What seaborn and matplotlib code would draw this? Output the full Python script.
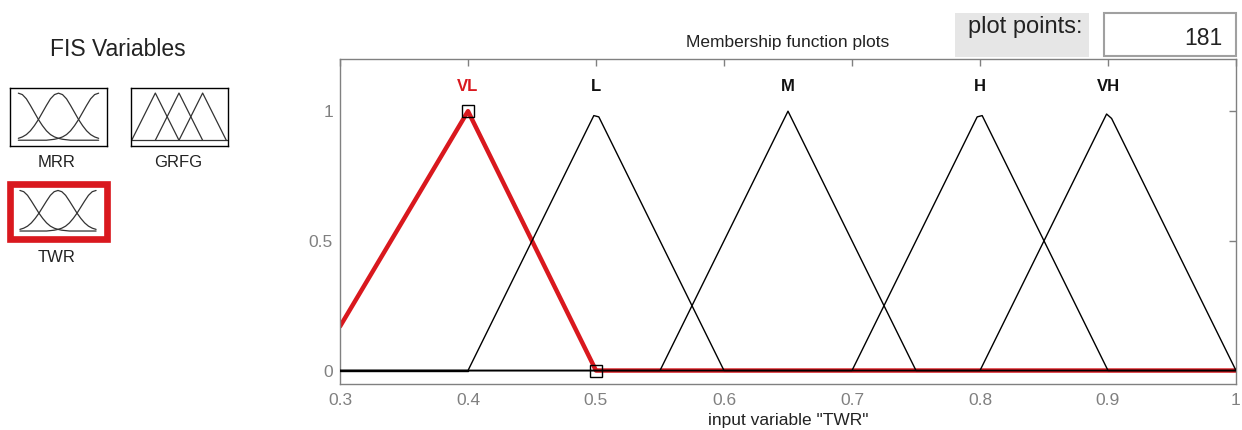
import matplotlib
matplotlib.use("Agg")
import matplotlib.pyplot as plt
import seaborn as sns
from matplotlib.patches import Rectangle

sns.set_style("white")
plt.rcParams["font.family"] = ["Liberation Sans", "DejaVu Sans"]

# ---- membership functions of the input variable "TWR" (vertices) ----
mf_names = ["VL", "L", "M", "H", "VH"]
vl_x = [0.3, 0.4, 0.5, 1.0]
vl_y = [0.17, 1.0, 0.0, 0.0]
l_x = [0.3, 0.4, 0.4983, 0.5022, 0.6, 1.0]
l_y = [0.0, 0.0, 0.983, 0.978, 0.0, 0.0]
m_x = [0.3, 0.55, 0.65, 0.75, 1.0]
m_y = [0.0, 0.0, 1.0, 0.0, 0.0]
h_x = [0.3, 0.7, 0.7978, 0.8017, 0.9, 1.0]
h_y = [0.0, 0.0, 0.978, 0.983, 0.0, 0.0]
vh_x = [0.3, 0.8, 0.8989, 0.9028, 1.0]
vh_y = [0.0, 0.0, 0.989, 0.972, 0.0]
mf_peaks = [0.4, 0.5, 0.65, 0.8, 0.9]

x_ticks = [0.3, 0.4, 0.5, 0.6, 0.7, 0.8, 0.9, 1.0]
x_tick_labels = ["0.3", "0.4", "0.5", "0.6", "0.7", "0.8", "0.9", "1"]
y_ticks = [0.0, 0.5, 1.0]
y_tick_labels = ["0", "0.5", "1"]

plot_points = "181"
fis_vars = ["MRR", "GRFG", "TWR"]

# ---- small glyphs for the FIS variable buttons ----
icon_u = [i / 20 for i in range(21)]
gauss_left = [1.00, 0.97, 0.88, 0.74, 0.59, 0.44, 0.31, 0.20, 0.12, 0.07, 0.04,
              0.02, 0.01, 0.0, 0.0, 0.0, 0.0, 0.0, 0.0, 0.0, 0.0]
gauss_mid = [0.04, 0.07, 0.12, 0.20, 0.31, 0.44, 0.59, 0.74, 0.88, 0.97, 1.00,
             0.97, 0.88, 0.74, 0.59, 0.44, 0.31, 0.20, 0.12, 0.07, 0.04]
gauss_right = gauss_left[::-1]
tri_x = [[0.0, 0.25, 0.5], [0.25, 0.5, 0.75], [0.5, 0.75, 1.0]]
tri_y = [0.0, 1.0, 0.0]

W, H = 1242, 430
fig = plt.figure(figsize=(W / 100, H / 100), dpi=100)
fig.patch.set_facecolor("white")


def fx(px):
    return px / W


def fy(py):
    return 1 - py / H


def box(x0, y0, x1, y1):
    return [fx(x0), fy(y1), fx(x1) - fx(x0), fy(y0) - fy(y1)]


GRAY = "#808080"
RED = "#d9181e"

# ---- main membership function plot ----
ax = fig.add_axes(box(340, 59.3, 1236, 383.5))
sns.lineplot(x=vl_x, y=vl_y, ax=ax, color=RED, lw=3.2, sort=False,
             estimator=None, zorder=2)
for xs, ys in [(l_x, l_y), (m_x, m_y), (h_x, h_y), (vh_x, vh_y)]:
    sns.lineplot(x=xs, y=ys, ax=ax, color="black", lw=1.0, sort=False,
                 estimator=None, zorder=3)
sns.lineplot(x=vl_x[:2], y=[0.0, 0.0], ax=ax, color="black", lw=1.0,
             sort=False, estimator=None, zorder=3)
# square handles on the selected function
ax.plot([vl_x[1], vl_x[2]], [vl_y[1], vl_y[2]], "s", mfc="none", mec="black",
        ms=8.5, mew=1.0, zorder=5)

for name, px in zip(mf_names, mf_peaks):
    ax.text(px, 1.095, name, ha="center", va="center", fontsize=12,
            fontweight="bold", color=RED if name == "VL" else "#111111")

ax.set_xlim(0.3, 1.0)
ax.set_ylim(-0.05, 1.2)
ax.set_xticks(x_ticks)
ax.set_xticklabels(x_tick_labels)
ax.set_yticks(y_ticks)
ax.set_yticklabels(y_tick_labels)
ax.tick_params(direction="in", length=5, width=1, color=GRAY,
               labelcolor=GRAY, labelsize=12.5, top=True, right=True)
ax.tick_params(axis="x", pad=7)
ax.tick_params(axis="y", pad=5)
for sp in ax.spines.values():
    sp.set_color(GRAY)
    sp.set_linewidth(1.0)
ax.set_xlabel("")
ax.set_ylabel("")

fig.text(fx(788), fy(47), "Membership function plots", ha="center",
         va="baseline", fontsize=12.5, color="#222222")
fig.text(fx(788), fy(425), 'input variable "TWR"', ha="center",
         va="baseline", fontsize=12.5, color="#222222")

# ---- plot points field ----
fig.patches.append(Rectangle((fx(955), fy(57)), fx(1089) - fx(955),
                             fy(13) - fy(57), transform=fig.transFigure,
                             facecolor="#e6e6e6", edgecolor="none"))
fig.patches.append(Rectangle((fx(1104), fy(56)), fx(1236) - fx(1104),
                             fy(13) - fy(56), transform=fig.transFigure,
                             facecolor="white", edgecolor="#a0a0a0", lw=1.5))
fig.text(fx(968), fy(33), "plot points:", ha="left", va="baseline",
         fontsize=17, color="#222222")
fig.text(fx(1223), fy(45), plot_points, ha="right", va="baseline",
         fontsize=16.5, color="#222222")

# ---- FIS variables panel ----
fig.text(fx(118), fy(50), "FIS Variables", ha="center", va="center",
         fontsize=16.5, color="#222222")


def gauss_icon(rect, edge="black", edge_w=1.0, show_spines=True):
    iax = fig.add_axes(rect)
    for ys in (gauss_left, gauss_mid, gauss_right):
        sns.lineplot(x=icon_u, y=ys, ax=iax, color="#333333", lw=0.9,
                     sort=False, estimator=None)
    iax.set_xlim(-0.104, 1.104)
    iax.set_ylim(-0.123, 1.11)
    iax.set_xticks([])
    iax.set_yticks([])
    iax.set_facecolor("white")
    for sp in iax.spines.values():
        sp.set_visible(show_spines)
        sp.set_color(edge)
        sp.set_linewidth(edge_w)
    return iax


gauss_icon(box(10, 88, 107, 146))
gauss_icon(box(12, 186, 104, 236), show_spines=False)
# selection frame round the active variable
fig.patches.append(Rectangle((fx(9.5), fy(238.5)), fx(107) - fx(9.5),
                             fy(183.5) - fy(238.5), transform=fig.transFigure,
                             facecolor="none", edgecolor=RED, lw=4.8,
                             joinstyle="miter", zorder=10))

tax = fig.add_axes(box(131, 88, 228, 146))
for xs in tri_x:
    sns.lineplot(x=xs, y=tri_y, ax=tax, color="#333333", lw=0.9, sort=False,
                 estimator=None)
tax.axhline(0, color="#333333", lw=0.9)
tax.set_xlim(-0.007, 1.018)
tax.set_ylim(-0.121, 1.107)
tax.set_xticks([])
tax.set_yticks([])
for sp in tax.spines.values():
    sp.set_color("black")
    sp.set_linewidth(1.0)

for name, (cx, cy) in zip(fis_vars, [(57, 163), (178, 163), (57, 257)]):
    fig.text(fx(cx), fy(cy), name, ha="center", va="center", fontsize=12,
             color="#222222")

fig.savefig("out.png", dpi=100, facecolor="white")
